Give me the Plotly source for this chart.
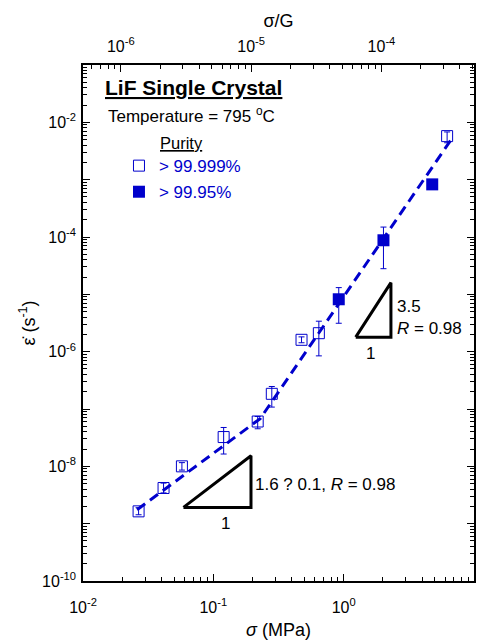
import numpy as np
import plotly.graph_objects as go

# ---------------- data ----------------
G_MPA = 1.95e4  # shear modulus used for the top sigma/G axis

sigma_open = [0.0267, 0.0415, 0.0574, 0.120, 0.219, 0.281, 0.475, 0.645, 6.22]
eps_open = [1.64e-9, 4.19e-9, 1.0e-8, 3.24e-8, 6.05e-8, 1.84e-7, 1.61e-6, 2.1e-6, 5.75e-3]
eps_open_hi = [1.9e-9, 5.1e-9, 1.16e-8, 4.76e-8, 7.41e-8, 2.47e-7, 1.81e-6, 3.4e-6, 6.8e-3]
eps_open_lo = [1.43e-9, 3.44e-9, 8.6e-9, 1.64e-8, 4.52e-8, 1.08e-7, 1.43e-6, 8.45e-7, 4.4e-3]

sigma_fill = [0.917, 2.02, 4.78]
eps_fill = [8.2e-6, 8.77e-5, 8.28e-4]
eps_fill_hi = [1.31e-5, 1.49e-4, 8.28e-4]
eps_fill_lo = [3.13e-6, 2.8e-5, 8.28e-4]

fit_sigma = [0.026, 0.229, 6.64]
fit_eps = [1.75e-9, 6.8e-8, 4.9e-3]

tri1_sigma = [0.059, 0.1945, 0.1945, 0.059]
tri1_eps = [1.92e-9, 1.92e-9, 1.53e-8, 1.92e-9]
tri2_sigma = [1.237, 2.305, 2.305, 1.237]
tri2_eps = [1.79e-6, 1.79e-6, 1.6e-5, 1.79e-6]

x_range_dec = (-2, 1)
y_range_dec = (-10, -1)
y_label_decades = [-10, -8, -6, -4, -2]
top_label_decades = [-6, -5, -4]

BLUE = "#0000CC"
FONT = "Arial, Liberation Sans, sans-serif"


def minor_vals(lo, hi):
    vals = []
    for d in range(int(np.floor(lo)), int(np.ceil(hi)) + 1):
        for m in range(2, 10):
            v = m * 10.0 ** d
            if 10 ** lo <= v <= 10 ** hi:
                vals.append(v)
    return vals


def err(vals, hi, lo):
    return dict(type="data", symmetric=False,
                array=[h - v for v, h in zip(vals, hi)],
                arrayminus=[v - l for v, l in zip(vals, lo)],
                color=BLUE, thickness=1, width=3)


fig = go.Figure()

fig.add_trace(go.Scatter(x=fit_sigma, y=fit_eps, mode="lines",
                         line=dict(color=BLUE, width=3, dash="10px,6px"),
                         showlegend=False, hoverinfo="skip"))

fig.add_trace(go.Scatter(x=sigma_open, y=eps_open, mode="markers",
                         name="> 99.999%", legendgroup="a",
                         marker=dict(symbol="square-open", size=11, color=BLUE,
                                     line=dict(width=1, color=BLUE)),
                         error_y=err(eps_open, eps_open_hi, eps_open_lo)))

fig.add_trace(go.Scatter(x=sigma_fill, y=eps_fill, mode="markers",
                         name="> 99.95%", legendgroup="b",
                         marker=dict(symbol="square", size=12, color=BLUE),
                         error_y=err(eps_fill, eps_fill_hi, eps_fill_lo)))

for ts, te in ((tri1_sigma, tri1_eps), (tri2_sigma, tri2_eps)):
    fig.add_trace(go.Scatter(x=ts, y=te, mode="lines",
                             line=dict(color="black", width=3),
                             showlegend=False, hoverinfo="skip"))

# invisible trace to carry the top (sigma/G) axis
fig.add_trace(go.Scatter(x=[s / G_MPA for s in sigma_open], y=eps_open,
                         xaxis="x2", mode="markers", marker=dict(opacity=0),
                         showlegend=False, hoverinfo="skip"))

LBL = dict(size=17, color="black", family=FONT)

# triangle labels
t1ymid = 10 ** ((np.log10(tri1_eps[1]) + np.log10(tri1_eps[2])) / 2)
fig.add_annotation(x=np.log10(tri1_sigma[1]), y=np.log10(t1ymid), xref="x", yref="y",
                   text="1.6 ? 0.1, <i>R</i> = 0.98", showarrow=False,
                   xanchor="left", yanchor="middle", xshift=2, yshift=-3, font=LBL)
t1bx = 10 ** ((np.log10(tri1_sigma[0]) + np.log10(tri1_sigma[1])) / 2)
fig.add_annotation(x=np.log10(t1bx), y=np.log10(tri1_eps[0]), xref="x", yref="y",
                   text="1", showarrow=False, xanchor="center", yanchor="top",
                   xshift=8, yshift=-5, font=LBL)

t2ymid = 10 ** ((np.log10(tri2_eps[1]) + np.log10(tri2_eps[2])) / 2)
fig.add_annotation(x=np.log10(tri2_sigma[1]), y=np.log10(t2ymid), xref="x", yref="y",
                   text="3.5<br><i>R</i> = 0.98", showarrow=False, align="left",
                   xanchor="left", yanchor="middle", xshift=4, yshift=-8, font=LBL)
t2bx = 10 ** ((np.log10(tri2_sigma[0]) + np.log10(tri2_sigma[1])) / 2)
fig.add_annotation(x=np.log10(t2bx), y=np.log10(tri2_eps[0]), xref="x", yref="y",
                   text="1", showarrow=False, xanchor="center", yanchor="top",
                   xshift=-3, yshift=-5, font=LBL)

# header texts
fig.add_annotation(x=0.051, y=0.957, xref="paper", yref="paper",
                   text="<b><u>LiF Single Crystal</u></b>", showarrow=False,
                   xanchor="left", yanchor="middle",
                   font=dict(size=21, color="black", family=FONT))
fig.add_annotation(x=0.058, y=0.903, xref="paper", yref="paper",
                   text="Temperature = 795 <sup>o</sup>C", showarrow=False,
                   xanchor="left", yanchor="middle",
                   font=dict(size=17, color="black", family=FONT))
fig.add_annotation(x=0.192, y=0.849, xref="paper", yref="paper",
                   text="<u>Purity</u>", showarrow=False,
                   xanchor="left", yanchor="middle",
                   font=dict(size=16.5, color="black", family=FONT))

yt_vals = [10.0 ** d for d in range(y_range_dec[0], y_range_dec[1] + 1)]
yt_text = [f"10<sup>{d}</sup>" if d in y_label_decades else ""
           for d in range(y_range_dec[0], y_range_dec[1] + 1)]
xt_vals = [10.0 ** d for d in range(x_range_dec[0], x_range_dec[1] + 1)]
xt_text = [f"10<sup>{d}</sup>" for d in range(x_range_dec[0], x_range_dec[1] + 1)]

logG = np.log10(G_MPA)
top_lo, top_hi = x_range_dec[0] - logG, x_range_dec[1] - logG
tt_vals = [10.0 ** d for d in top_label_decades]
tt_text = [f"10<sup>{d}</sup>" for d in top_label_decades]

axis_common = dict(showline=True, linecolor="black", linewidth=1.5, ticks="inside",
                   ticklen=7, tickwidth=1, tickcolor="black", showgrid=False,
                   zeroline=False, automargin=False,
                   tickfont=dict(size=16, color="black", family=FONT))

# the page body adds an 8 px offset, so the figure is sized to fit the window
fig.update_layout(
    width=477, height=635,
    margin=dict(l=75, r=11, t=57, b=62),
    paper_bgcolor="white", plot_bgcolor="white",
    font=dict(family=FONT, color="black"),
    showlegend=True,
    legend=dict(x=0.092, y=0.839, xanchor="left", yanchor="top",
                font=dict(size=17, color=BLUE, family=FONT),
                bgcolor="rgba(0,0,0,0)", tracegroupgap=1),
    xaxis=dict(type="log", range=list(x_range_dec), tickmode="array",
               tickvals=xt_vals, ticktext=xt_text, ticklabelstandoff=11,
               minor=dict(ticks="inside", ticklen=4, tickcolor="black",
                          tickvals=minor_vals(*x_range_dec), showgrid=False),
               title=dict(text="<i>σ</i> (MPa)", font=dict(size=18), standoff=8),
               mirror=False, **axis_common),
    xaxis2=dict(type="log", range=[top_lo, top_hi], overlaying="x", side="top",
                anchor="y", tickmode="array", tickvals=tt_vals, ticktext=tt_text,
                ticklabelstandoff=5,
                minor=dict(ticks="inside", ticklen=4, tickcolor="black",
                           tickvals=minor_vals(top_lo, top_hi), showgrid=False),
                title=dict(text="σ/G", font=dict(size=18), standoff=3),
                **axis_common),
    yaxis=dict(type="log", range=list(y_range_dec), tickmode="array",
               tickvals=yt_vals, ticktext=yt_text, ticklabelstandoff=2,
               minor=dict(ticks="inside", ticklen=4, tickcolor="black",
                          tickvals=minor_vals(*y_range_dec), showgrid=False),
               title=dict(text="ε̇ (s<sup>-1</sup>)", font=dict(size=18), standoff=2),
               mirror="ticks", **axis_common),
)

fig.write_html("out.html")
